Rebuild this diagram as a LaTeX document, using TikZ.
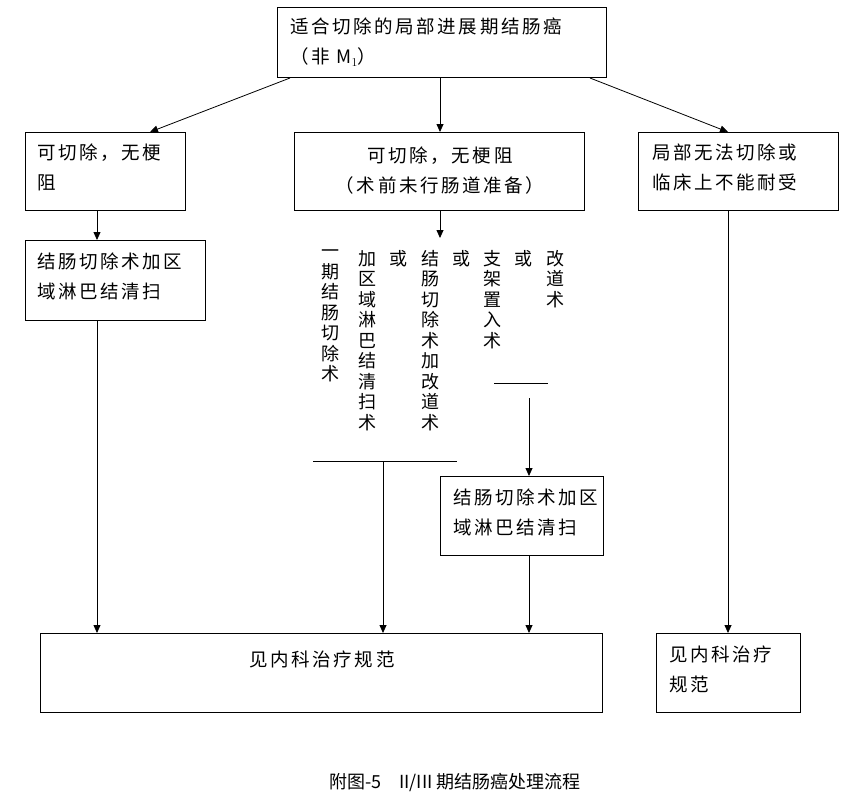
\documentclass[tikz,border=0pt]{standalone}
\usepackage{fontspec}
\setmainfont{Noto Sans CJK SC}
\newfontfamily\wide[LetterSpace=14]{Noto Sans CJK SC}
\usetikzlibrary{arrows.meta}
\begin{document}
\begin{tikzpicture}[x=1pt,y=-1pt,
  bx/.style={draw,line width=0.8pt},
  tx/.style={font=\wide\fontsize{18.5}{30}\selectfont,inner sep=0pt},
  vt/.style={font=\fontsize{18}{20.5}\selectfont,inner sep=0pt,anchor=north,align=center},
  ar/.style={-{Triangle[length=8pt,width=7pt]},line width=0.8pt},
  ln/.style={line width=0.8pt}]
\useasboundingbox (0,0) rectangle (852,798);
\draw[bx] (277,7) rectangle (606,77);
\node[tx,align=left,anchor=north west] (top) at (290,18) {适合切除的局部进展期结肠癌\\（非 M$_1$）};
\coordinate (t1) at (290,78); \coordinate (t2) at (440,78); \coordinate (t3) at (590,78);
\draw[bx] (25,132) rectangle (185,210);
\node[tx,align=left,anchor=north west] (a) at (37,144) {可切除，无梗\\阻};
\draw[bx] (294,132) rectangle (584,210);
\node[tx,align=center] (b) at (440,171) {可切除，无梗阻\\（术前未行肠道准备）};
\draw[bx] (638,132) rectangle (838,210);
\node[tx,align=left,anchor=north west] (c) at (652,144) {局部无法切除或\\临床上不能耐受};
\draw[bx] (25,240) rectangle (205,320);
\node[tx,align=left,anchor=north west] (d) at (37,253) {结肠切除术加区\\域淋巴结清扫};
\draw[bx] (440,476) rectangle (603,555);
\node[tx,align=left,anchor=north west] (e) at (453,489) {结肠切除术加区\\域淋巴结清扫};
\draw[bx] (40,633) rectangle (602,712);
\node[tx] (f) at (322,659) {见内科治疗规范};
\draw[bx] (656,633) rectangle (800,712);
\node[tx,align=left,anchor=north west] (g) at (669,646) {见内科治疗\\规范};
\coordinate (aT) at (150,132); \coordinate (bT) at (440,132); \coordinate (cT) at (728,132);
\draw[ar] (t1) -- (aT); \draw[ar] (t2) -- (bT); \draw[ar] (t3) -- (cT);
\draw[ar] (97,210) -- (97,240);
\draw[ar] (97,320) -- (97,633);
\draw[ar] (440,210) -- (440,238);
\draw[ar] (728,210) -- (728,633);
\foreach \x/\t in {330/一\\期\\结\\肠\\切\\除\\术, 367/加\\区\\域\\淋\\巴\\结\\清\\扫\\术, 398/或, 430/结\\肠\\切\\除\\术\\加\\改\\道\\术, 461/或, 492/支\\架\\置\\入\\术, 523/或, 555/改\\道\\术}
  \node[vt] at (\x,250) {\t};
\draw[ln] (313,461) -- (457,461);
\draw[ar] (383,461) -- (383,633);
\draw[ln] (494,383) -- (548,383);
\draw[ar] (529,398) -- (529,476);
\draw[ar] (529,555) -- (529,633);
\node[tx,font=\fontsize{18}{20}\selectfont] (cap) at (455,782) {附图-5\quad II/III 期结肠癌处理流程};
\end{tikzpicture}
\end{document}
